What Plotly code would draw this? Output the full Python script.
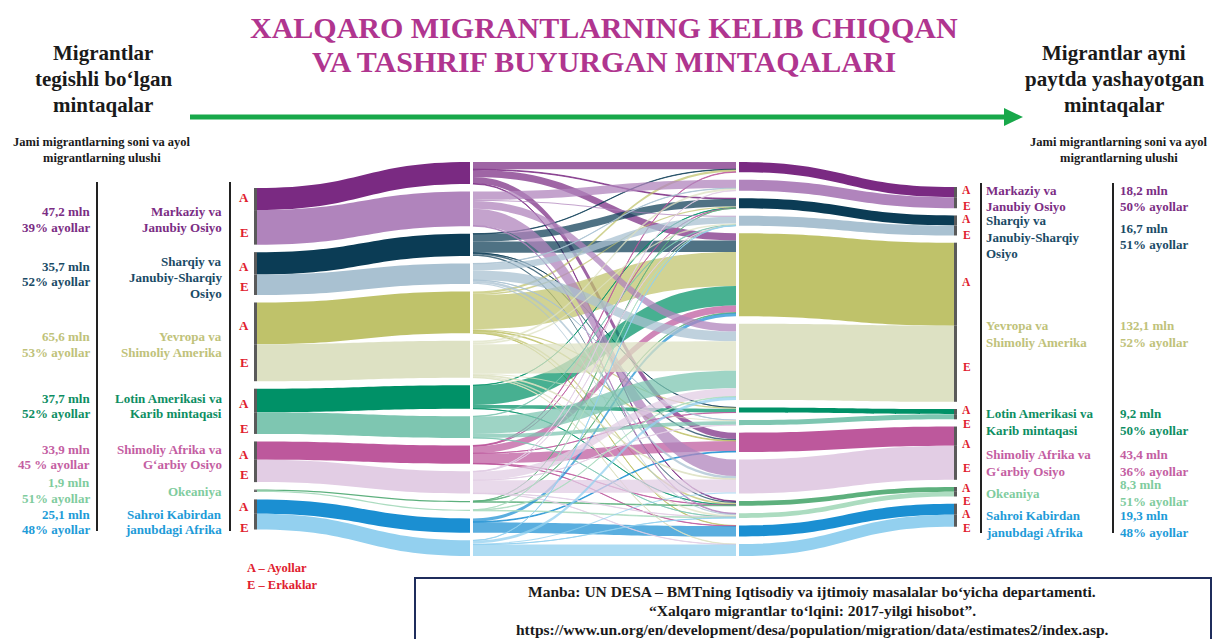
import plotly.graph_objects as go

W, H = 1215, 639

# ---------------- DATA ----------------
regions_src = [["Markaziy va", "Janubiy Osiyo"],
               ["Sharqiy va", "Janubiy-Sharqiy", "Osiyo"],
               ["Yevropa va", "Shimoliy Amerika"],
               ["Lotin Amerikasi va", "Karib mintaqasi"],
               ["Shimoliy Afrika va", "G‘arbiy Osiyo"],
               ["Okeaniya"],
               ["Sahroi Kabirdan", "janubdagi Afrika"]]
regions_dst = [["Markaziy va", "Janubiy Osiyo"],
               ["Sharqiy va", "Janubiy-Sharqiy", "Osiyo"],
               ["Yevropa va", "Shimoliy Amerika"],
               ["Lotin Amerikasi va", "Karib mintaqasi"],
               ["Shimoliy Afrika va", "G‘arbiy Osiyo"],
               ["Okeaniya"],
               ["Sahroi Kabirdan", "janubdagi Afrika"]]

origin_total_mln = ["47,2", "35,7", "65,6", "37,7", "33,9", "1,9", "25,1"]
origin_women_pct = ["39%", "52%", "53%", "52%", "45 %", "51%", "48%"]
dest_total_mln = ["18,2", "16,7", "132,1", "9,2", "43,4", "8,3", "19,3"]
dest_women_pct = ["50%", "51%", "52%", "50%", "36%", "51%", "48%"]

genders = ["A", "E"]

# flows (mln) origin (rows) -> destination (cols), order as regions above
women_flows = [
    [6.0, 0.6, 6.0, 0.0, 5.3, 0.5, 0.0],
    [0.3, 6.2, 9.5, 0.1, 1.3, 1.2, 0.0],
    [1.8, 1.2, 28.4, 1.0, 0.6, 1.5, 0.3],
    [0.0, 0.2, 16.2, 3.1, 0.0, 0.1, 0.0],
    [0.4, 0.1, 6.0, 0.1, 8.3, 0.2, 0.2],
    [0.0, 0.07, 0.4, 0.0, 0.0, 0.5, 0.0],
    [0.0, 0.0, 2.7, 0.0, 0.6, 0.0, 8.7],
]
men_flows = [
    [7.0, 0.9, 6.5, 0.0, 13.8, 0.6, 0.0],
    [0.3, 5.5, 8.0, 0.1, 2.2, 1.0, 0.0],
    [1.6, 1.3, 24.6, 0.9, 0.7, 1.4, 0.3],
    [0.0, 0.3, 14.5, 3.2, 0.0, 0.1, 0.0],
    [0.3, 0.1, 7.0, 0.1, 10.7, 0.2, 0.2],
    [0.0, 0.03, 0.4, 0.0, 0.0, 0.5, 0.0],
    [0.0, 0.2, 2.4, 0.0, 0.9, 0.1, 9.5],
]
flows = [women_flows, men_flows]

# ---------------- STYLE ----------------
dark = ["#7a2a82", "#0b3c55", "#bfc26a", "#009167", "#bd589c", "#5db07d", "#1b8fd2"]
light = ["#b084bc", "#a9c1d1", "#dde1c3", "#7ec6b1", "#e2cde4", "#acdcc0", "#93d0ef"]
text_col = ["#7b2d84", "#1a4b66", "#c0c27a", "#0d8e63", "#c45ea2", "#7fcc9e", "#1d9bd8"]
RED = "#e0202e"
EDGE = "#5a5a5a"
FONT = "Liberation Serif"


def rgba(hexc, a):
    h = hexc.lstrip("#")
    return "rgba(%d,%d,%d,%.2f)" % (int(h[0:2], 16), int(h[2:4], 16), int(h[4:6], 16), a)


n_reg = len(regions_src)
row_sums = [[sum(flows[g][i]) for i in range(n_reg)] for g in range(2)]
col_sums = [[sum(flows[g][i][j] for i in range(n_reg)) for j in range(n_reg)] for g in range(2)]
total = sum(sum(r) for r in row_sums)

KY = 1.2                         # px per mln
PAD = (H - KY * total) / 13.0    # makes plotly's scale equal KY
THICK = 3
col_x = [255.5, 471.5, 737.5, 955.5]


def idx(col, r, g):
    return col * 14 + r * 2 + g


node_x = [0.0] * 56
node_y = [0.0] * 56
node_c = ["white"] * 56


def place(col, values, start, gap_in, gap_out):
    y = start
    for r in range(n_reg):
        for g in range(2):
            h = values[g][r] * KY
            node_x[idx(col, r, g)] = col_x[col] / W
            node_y[idx(col, r, g)] = (y + h / 2) / H
            y += h
            y += gap_in if g == 0 else 0
        y += gap_out


place(0, row_sums, 188, 0, 7.5)
place(1, row_sums, 162, 7.5, 7.5)
place(2, col_sums, 162, 7.5, 7.5)
place(3, col_sums, 187, 0, 7.2)
for r in range(n_reg):
    for g in range(2):
        node_c[idx(0, r, g)] = EDGE
        node_c[idx(3, r, g)] = EDGE

src, tgt, val, lcol = [], [], [], []
for r in range(n_reg):
    for g in range(2):
        src.append(idx(0, r, g)); tgt.append(idx(1, r, g)); val.append(row_sums[g][r])
        lcol.append(dark[r] if g == 0 else light[r])
for g in range(2):
    for i in range(n_reg):
        for j in range(n_reg):
            v = flows[g][i][j]
            if v > 0:
                src.append(idx(1, i, g)); tgt.append(idx(2, j, g)); val.append(v)
                lcol.append(rgba(dark[i], 0.72) if g == 0 else rgba(light[i], 0.75))
for r in range(n_reg):
    for g in range(2):
        src.append(idx(2, r, g)); tgt.append(idx(3, r, g)); val.append(col_sums[g][r])
        lcol.append(dark[r] if g == 0 else light[r])

fig = go.Figure(go.Sankey(
    arrangement="fixed",
    domain=dict(x=[0, 1], y=[0, 1]),
    node=dict(label=[""] * 56, x=node_x, y=node_y, color=node_c,
              pad=PAD, thickness=THICK, line=dict(width=0)),
    link=dict(source=src, target=tgt, value=val, color=lcol),
    textfont=dict(size=1),
))

anns = []


def ann(x, y, text, size, color, xanchor="center"):
    anns.append(dict(x=x / W, y=1 - y / H, xref="paper", yref="paper", text=text,
                     showarrow=False, xanchor=xanchor, yanchor="middle",
                     font=dict(family=FONT, size=size, color=color)))


# title
ann(604, 28, "<b>XALQARO MIGRANTLARNING KELIB CHIQQAN</b>", 30, "#b0358f")
ann(604, 62, "<b>VA TASHRIF BUYURGAN MINTAQALARI</b>", 30, "#b0358f")

# headers
for k, t in enumerate(["Migrantlar", "tegishli bo‘lgan", "mintaqalar"]):
    ann(103, 53 + 26 * k, "<b>%s</b>" % t, 21, "#1a1a1a")
for k, t in enumerate(["Migrantlar ayni", "paytda yashayotgan", "mintaqalar"]):
    ann(1114, 53 + 26 * k, "<b>%s</b>" % t, 21, "#1a1a1a")
for k, t in enumerate(["Jami migrantlarning soni va ayol", "migrantlarning ulushi"]):
    ann(102, 142 + 15.5 * k, "<b>%s</b>" % t, 12.5, "#1a1a1a")
    ann(1119, 142 + 15.5 * k, "<b>%s</b>" % t, 12.5, "#1a1a1a")

# left labels
left_val_cy = [219.5, 274, 344.5, 406, 457, 490.5, 522]
left_name_cy = [219.5, 277.5, 344.5, 406, 457, 491, 522]
LS = 15.8
for r in range(n_reg):
    lines = ["%s mln" % origin_total_mln[r], "%s ayollar" % origin_women_pct[r]]
    for k, t in enumerate(lines):
        ann(92, left_val_cy[r] + (k - 0.5) * LS, "<b>%s</b>" % t, 13, text_col[r], "right")
    nl = regions_src[r]
    for k, t in enumerate(nl):
        ann(224, left_name_cy[r] + (k - (len(nl) - 1) / 2) * LS, "<b>%s</b>" % t, 13, text_col[r], "right")

# right labels
right_val_cy = [198.5, 236.5, 334, 422, 463, 493, 524]
right_name_cy = [198.5, 237, 334, 422, 463, 494, 524]
RS = 16.5
for r in range(n_reg):
    lines = ["%s mln" % dest_total_mln[r], "%s ayollar" % dest_women_pct[r]]
    for k, t in enumerate(lines):
        ann(1118, right_val_cy[r] + (k - 0.5) * RS, "<b>%s</b>" % t, 13, text_col[r], "left")
    nl = regions_dst[r]
    for k, t in enumerate(nl):
        ann(984, right_name_cy[r] + (k - (len(nl) - 1) / 2) * RS, "<b>%s</b>" % t, 13, text_col[r], "left")

# A / E markers
left_ae_y = [[197, 232], [266, 286], [325, 362], [403, 428], [454, 474], None, [506, 527]]
right_ae_y = [[190, 206], [219.5, 235], [282, 367], [410, 424], [444, 468], [488, 501], [514, 528]]
for r in range(n_reg):
    if left_ae_y[r]:
        for g in range(2):
            ann(244, left_ae_y[r][g], "<b>%s</b>" % genders[g], 13, RED)
    for g in range(2):
        ann(967, right_ae_y[r][g], "<b>%s</b>" % genders[g], 11.5, RED)

# legend
ann(245, 568, "<b>A – Ayollar</b>", 12.5, RED, "left")
ann(245, 585, "<b>E – Erkaklar</b>", 12.5, RED, "left")

# source
src_lines = ["Manba: UN DESA – BMTning Iqtisodiy va ijtimoiy masalalar bo‘yicha departamenti.",
             "“Xalqaro migrantlar to‘lqini: 2017-yilgi hisobot”.",
             "https://www.un.org/en/development/desa/population/migration/data/estimates2/index.asp."]
for k, t in enumerate(src_lines):
    ann(812, 591 + 19.3 * k, "<b>%s</b>" % t, 15.5, "#1a1a1a")


def px(x):
    return x / W


def py(y):
    return 1 - y / H


shapes = [
    dict(type="line", xref="paper", yref="paper", x0=px(190), x1=px(1008), y0=py(117), y1=py(117),
         line=dict(color="#18a84a", width=5)),
    dict(type="path", xref="paper", yref="paper",
         path="M %f %f L %f %f L %f %f Z" % (px(1004), py(108), px(1023), py(117), px(1004), py(126)),
         fillcolor="#18a84a", line=dict(width=0)),
    dict(type="line", xref="paper", yref="paper", x0=px(97), x1=px(97), y0=py(182), y1=py(531),
         line=dict(color="#222222", width=2)),
    dict(type="line", xref="paper", yref="paper", x0=px(230), x1=px(230), y0=py(182), y1=py(531),
         line=dict(color="#222222", width=2)),
    dict(type="line", xref="paper", yref="paper", x0=px(981), x1=px(981), y0=py(183), y1=py(533),
         line=dict(color="#222222", width=2)),
    dict(type="line", xref="paper", yref="paper", x0=px(1113), x1=px(1113), y0=py(183), y1=py(533),
         line=dict(color="#222222", width=2)),
    dict(type="rect", xref="paper", yref="paper", x0=px(415), x1=px(1211), y0=py(578), y1=py(645),
         line=dict(color="#1f2d5c", width=2), fillcolor="rgba(0,0,0,0)"),
]

fig.update_layout(width=W, height=H, margin=dict(l=0, r=0, t=0, b=0),
                  paper_bgcolor="white", plot_bgcolor="white",
                  annotations=anns, shapes=shapes, showlegend=False)

fig.write_html("out.html", config={"displayModeBar": False},
               post_script="document.body.style.margin='0px';document.body.style.overflow='hidden';")
